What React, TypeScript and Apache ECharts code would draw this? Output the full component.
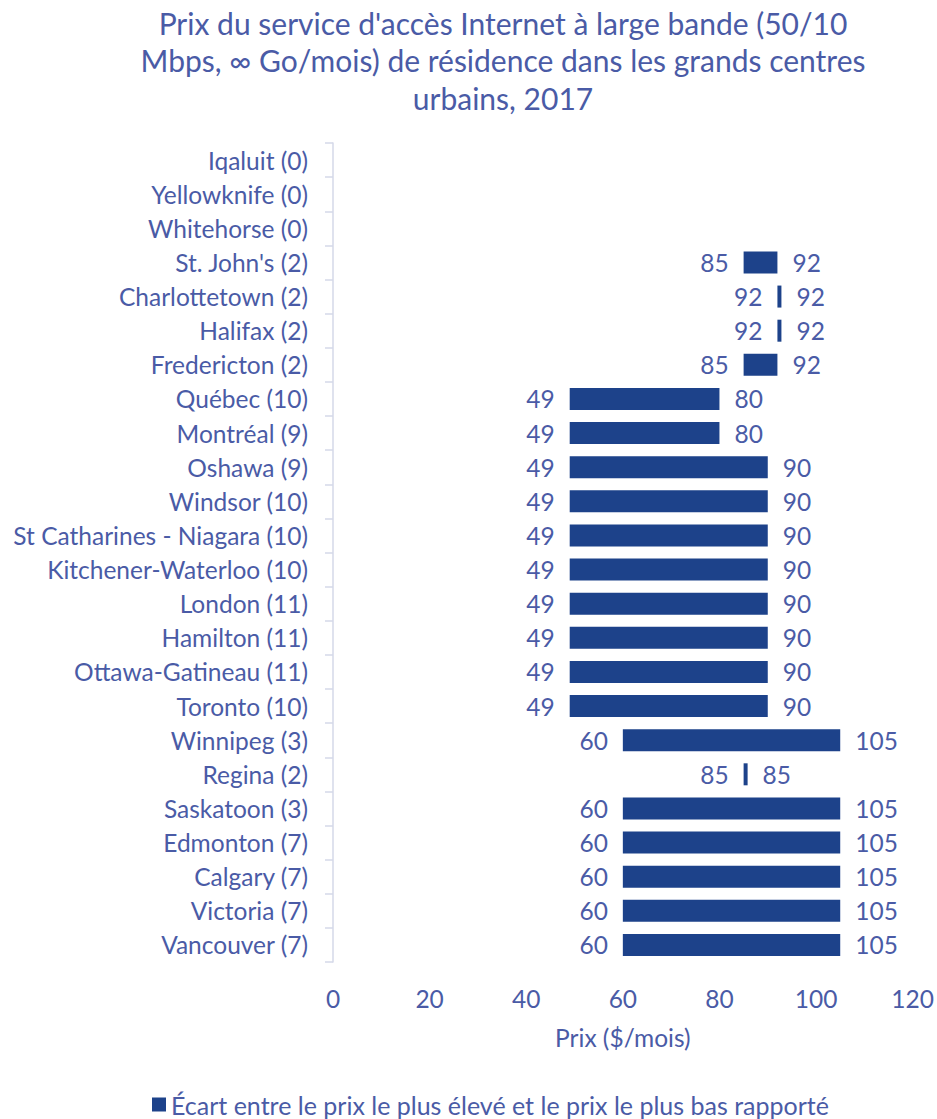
import React, { useEffect, useRef } from "react";
import * as echarts from "echarts";

const titleText =
  "Prix du service d'accès Internet à large bande (50/10\nMbps, ∞ Go/mois) de résidence dans les grands centres\nurbains, 2017";
const axisName = "Prix ($/mois)";
const seriesName = "Écart entre le prix le plus élevé et le prix le plus bas rapporté";

const cities = [
  "Iqaluit (0)",
  "Yellowknife (0)",
  "Whitehorse (0)",
  "St. John's (2)",
  "Charlottetown (2)",
  "Halifax (2)",
  "Fredericton (2)",
  "Québec (10)",
  "Montréal (9)",
  "Oshawa (9)",
  "Windsor (10)",
  "St Catharines - Niagara (10)",
  "Kitchener-Waterloo (10)",
  "London (11)",
  "Hamilton (11)",
  "Ottawa-Gatineau (11)",
  "Toronto (10)",
  "Winnipeg (3)",
  "Regina (2)",
  "Saskatoon (3)",
  "Edmonton (7)",
  "Calgary (7)",
  "Victoria (7)",
  "Vancouver (7)",
];

const minPrices: (number | null)[] = [
  null, null, null, 85, 92, 92, 85, 49, 49, 49, 49, 49, 49, 49, 49, 49, 49, 60, 85, 60, 60, 60, 60, 60,
];
const maxPrices: (number | null)[] = [
  null, null, null, 92, 92, 92, 92, 80, 80, 90, 90, 90, 90, 90, 90, 90, 90, 105, 85, 105, 105, 105, 105, 105,
];

const xTicks = { min: 0, max: 120, interval: 20 };

const TEXT = "#4a5ba6";
const BAR = "#1d428a";
const FONT = "Lato, 'Open Sans', sans-serif";
const FS = 24.5;

export default function App() {
  const ref = useRef<HTMLDivElement>(null);
  useEffect(() => {
    document.body.style.margin = "0";
    if (!ref.current) return;
    const chart = echarts.init(ref.current, null, { renderer: "svg" });
    const spans = minPrices.map((mn, i) => {
      const mx = maxPrices[i];
      return mn == null || mx == null ? null : mx - mn;
    });
    chart.setOption({
      animation: false,
      textStyle: { fontFamily: FONT, color: TEXT },
      title: {
        text: titleText,
        left: 503,
        textAlign: "center",
        top: 4,
        padding: 0,
        textStyle: {
          fontFamily: FONT,
          fontSize: 30,
          fontWeight: "normal",
          color: TEXT,
          lineHeight: 37.5,
        },
      },
      legend: {
        left: 152,
        bottom: 2,
        padding: 0,
        data: [{ name: seriesName, icon: "rect" }],
        itemWidth: 14,
        itemHeight: 14,
        itemGap: 6,
        textStyle: { fontFamily: FONT, fontSize: 25, color: TEXT },
      },
      grid: { left: 333, right: 24, top: 143, bottom: 157, containLabel: false },
      xAxis: {
        type: "value",
        min: xTicks.min,
        max: xTicks.max,
        interval: xTicks.interval,
        name: axisName,
        nameLocation: "middle",
        nameGap: 63,
        nameTextStyle: { fontFamily: FONT, fontSize: FS, color: TEXT },
        axisLine: { show: false },
        axisTick: { show: false },
        splitLine: { show: false },
        axisLabel: { margin: 24, fontFamily: FONT, fontSize: FS, color: TEXT },
      },
      yAxis: {
        type: "category",
        inverse: true,
        data: cities,
        axisLine: { show: true, lineStyle: { color: "#d5d8e8", width: 1.5 } },
        axisTick: { show: true, length: 8, lineStyle: { color: "#d5d8e8", width: 1.5 } },
        axisLabel: { margin: 25, fontFamily: FONT, fontSize: FS, color: TEXT },
        splitLine: { show: false },
      },
      series: [
        {
          name: "base",
          type: "bar",
          stack: "range",
          data: minPrices,
          barWidth: 22,
          silent: true,
          itemStyle: { color: "rgba(0,0,0,0)" },
          emphasis: { disabled: true },
          label: {
            show: true,
            position: "insideRight",
            distance: 15,
            fontFamily: FONT,
            fontSize: FS,
            color: TEXT,
          },
        },
        {
          name: seriesName,
          type: "bar",
          stack: "range",
          data: spans,
          barWidth: 22,
          barMinHeight: 4,
          itemStyle: { color: BAR },
          label: {
            show: true,
            position: "right",
            distance: 15,
            fontFamily: FONT,
            fontSize: FS,
            color: TEXT,
            formatter: (p: any) => String(maxPrices[p.dataIndex]),
          },
        },
      ],
    });
    return () => chart.dispose();
  }, []);
  return <div ref={ref} style={{ width: 937, height: 1119 }} />;
}
